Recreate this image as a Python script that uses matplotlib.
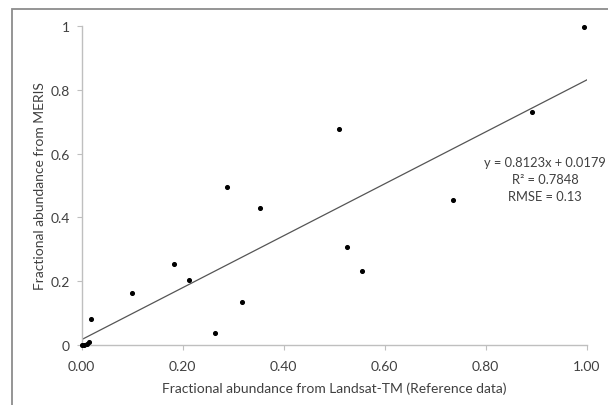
import matplotlib
matplotlib.use('Agg')
import matplotlib.pyplot as plt
import matplotlib.patches as patches
import numpy as np

# landsat (reference) vs meris fractional abundance
landsat = [0.0, 0.004, 0.01, 0.014, 0.018, 0.099, 0.183, 0.212, 0.264, 0.287,
           0.317, 0.354, 0.51, 0.525, 0.556, 0.736, 0.892, 0.995]
meris = [0.0, 0.002, 0.005, 0.01, 0.081, 0.164, 0.254, 0.205, 0.038, 0.496,
         0.134, 0.429, 0.678, 0.309, 0.232, 0.454, 0.731, 0.996]

slope = 0.8123
intercept = 0.0179
eq_text = 'y = 0.8123x + 0.0179\nR² = 0.7848\nRMSE = 0.13'

x_ticks = [0.0, 0.2, 0.4, 0.6, 0.8, 1.0]
x_ticklabels = ['0.00', '0.20', '0.40', '0.60', '0.80', '1.00']
y_ticks = [0, 0.2, 0.4, 0.6, 0.8, 1]
y_ticklabels = ['0', '0.2', '0.4', '0.6', '0.8', '1']

plt.rcParams['font.family'] = ['Lato', 'DejaVu Sans']

W, H = 608, 406
fig = plt.figure(figsize=(W / 100, H / 100), dpi=100)
ax = fig.add_axes([81.7 / W, 1 - 346.3 / H, (586.7 - 81.7) / W, (346.3 - 26.7) / H])

# outer chart border (cut off at right and bottom)
fig.patches.append(patches.Rectangle((12 / W, -0.1), 1.0, (H - 10) / H + 0.1,
                                     transform=fig.transFigure, fill=False,
                                     edgecolor='#8c8c8c', lw=1.3))

ax.scatter(landsat, meris, s=7, color='black', zorder=3, clip_on=False)

xl = np.array([0.0, 1.0])
ax.plot(xl, slope * xl + intercept, color='#555555', lw=0.9, zorder=2)

ax.set_xlim(0, 1)
ax.set_ylim(0, 1)
ax.set_xticks(x_ticks)
ax.set_xticklabels(x_ticklabels)
ax.set_yticks(y_ticks)
ax.set_yticklabels(y_ticklabels)

for s in ['top', 'right']:
    ax.spines[s].set_visible(False)
for s in ['left', 'bottom']:
    ax.spines[s].set_color('#bfbfbf')
    ax.spines[s].set_linewidth(1.0)
ax.tick_params(axis='both', length=3.5, width=0.8, color='#bfbfbf',
               labelsize=10, labelcolor='#404040')
ax.tick_params(axis='x', pad=7)
ax.tick_params(axis='y', pad=5)

ax.set_xlabel('Fractional abundance from Landsat-TM (Reference data)',
              fontsize=10, color='#404040', labelpad=7)
ax.set_ylabel('Fractional abundance from MERIS', fontsize=10,
              color='#404040', labelpad=3)

ax.text(0.918, 0.52, eq_text, transform=ax.transAxes, ha='center', va='center',
        fontsize=9.3, color='#404040', linespacing=1.5, clip_on=False)

fig.savefig('out.png', dpi=100)
